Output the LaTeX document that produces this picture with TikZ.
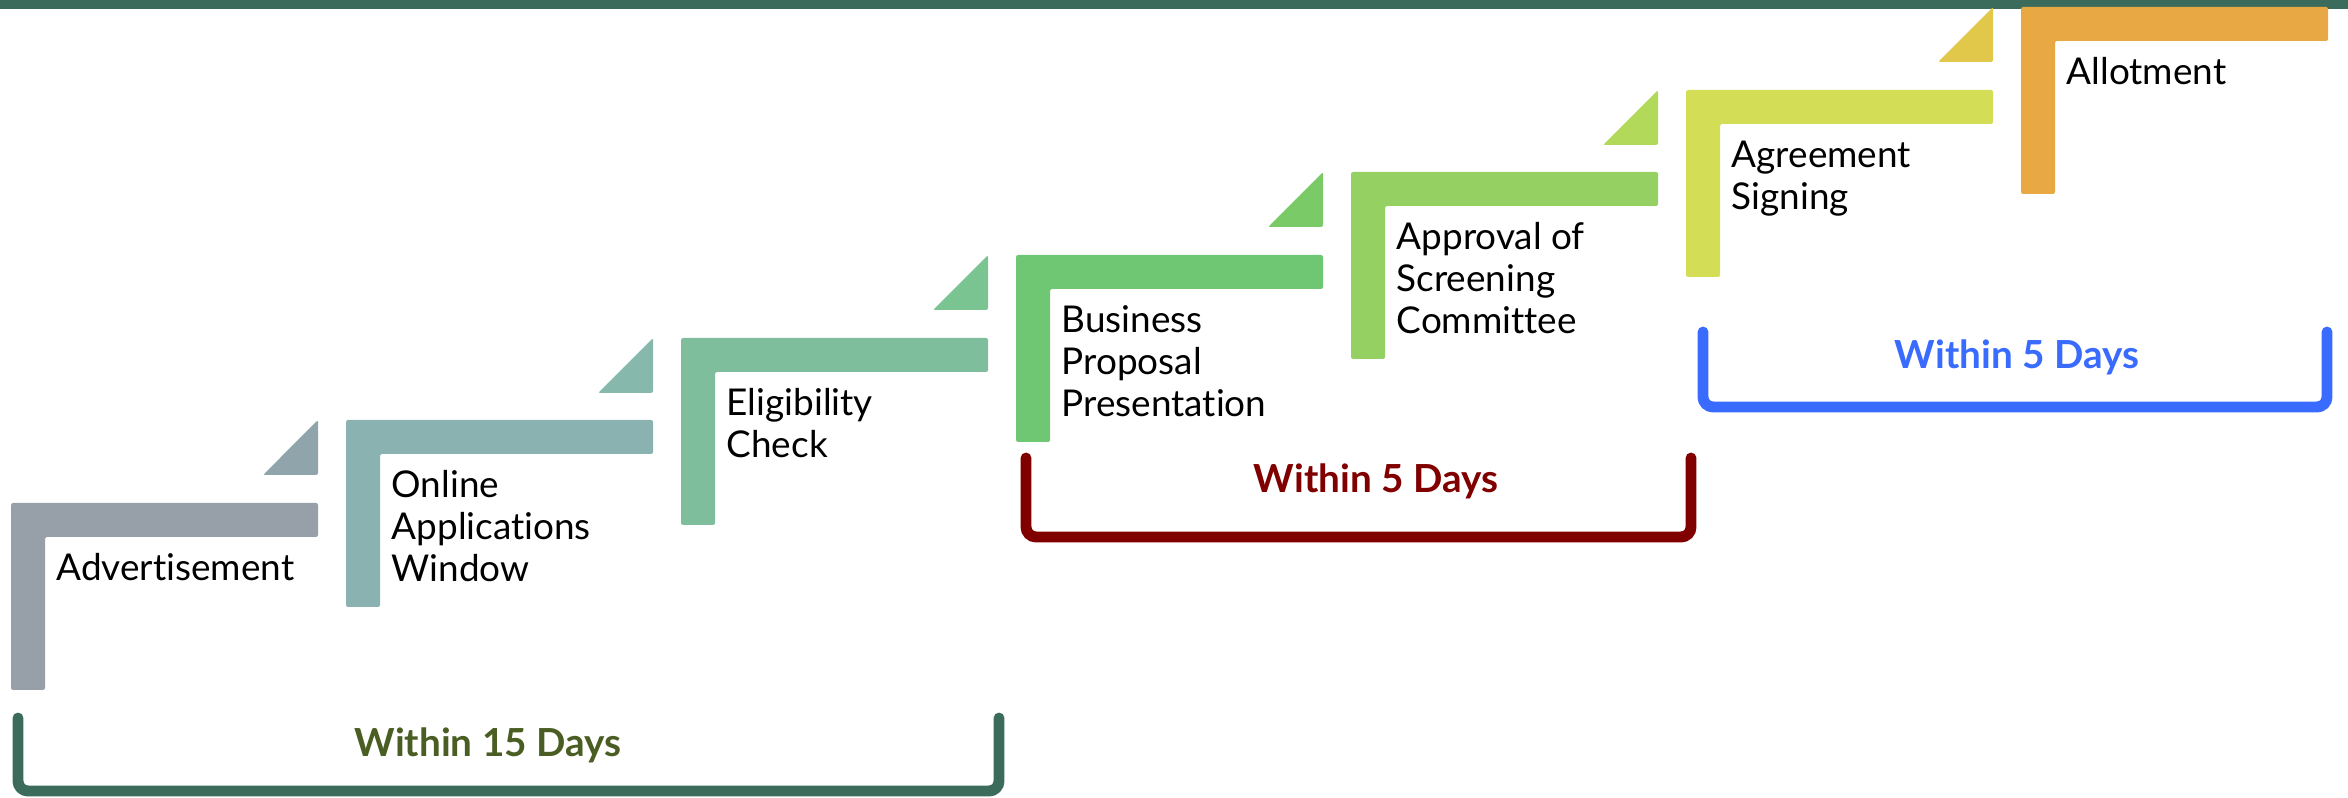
\documentclass[tikz,border=0pt]{standalone}
\usepackage{fontspec}
\setmainfont{Lato}[Ligatures={NoCommon}]
\definecolor{topgreen}{HTML}{3B6B5B}
\definecolor{stepA}{HTML}{979FA8}
\definecolor{stepB}{HTML}{8AB2B0}
\definecolor{stepC}{HTML}{7FBE9C}
\definecolor{stepD}{HTML}{6FC774}
\definecolor{stepE}{HTML}{95D162}
\definecolor{stepF}{HTML}{D3DD55}
\definecolor{stepG}{HTML}{E8A843}
\definecolor{triA}{HTML}{8FA4AB}
\definecolor{triB}{HTML}{86B8AC}
\definecolor{triC}{HTML}{79C490}
\definecolor{triD}{HTML}{7ACB68}
\definecolor{triE}{HTML}{B2D95A}
\definecolor{triF}{HTML}{E2C84A}
\definecolor{olivetext}{HTML}{4A5E23}
\definecolor{bracketred}{HTML}{800000}
\definecolor{bracketblue}{HTML}{3A6BFF}
\usepackage{tikz}

\begin{document}
\begin{tikzpicture}[every node/.style={inner sep=0pt},
    steptext/.style={anchor=north west, align=left, font=\fontsize{10.5}{11.95}\selectfont},
    daystext/.style={anchor=base, font=\fontsize{11}{13}\selectfont\bfseries},
    bracket/.style={line width=3.1pt, line cap=round, rounded corners=0.1cm}]
    \useasboundingbox (0,0) rectangle (23.48,7.97);

    % Top line
    \fill[topgreen] (0,7.88) rectangle (23.48,7.97);

    % Steps
    \fill[stepA, rounded corners=0.6pt] (0.11,1.07) -- (0.11,2.94) -- (3.18,2.94) -- (3.18,2.60) -- (0.45,2.60) -- (0.45,1.07) -- cycle;
    \fill[triA, rounded corners=0.6pt] (2.63,3.22) -- (3.18,3.77) -- (3.18,3.22) -- cycle;
    \node[steptext] (advert) at (0.56,2.44) {Advertisement};

    \fill[stepB, rounded corners=0.6pt] (3.46,1.90) -- (3.46,3.77) -- (6.53,3.77) -- (6.53,3.43) -- (3.80,3.43) -- (3.80,1.90) -- cycle;
    \fill[triB, rounded corners=0.6pt] (5.98,4.04) -- (6.53,4.59) -- (6.53,4.04) -- cycle;
    \node[steptext] (online) at (3.91,3.27) {Online\\Applications\\Window};

    \fill[stepC, rounded corners=0.6pt] (6.81,2.72) -- (6.81,4.59) -- (9.88,4.59) -- (9.88,4.25) -- (7.15,4.25) -- (7.15,2.72) -- cycle;
    \fill[triC, rounded corners=0.6pt] (9.33,4.87) -- (9.88,5.42) -- (9.88,4.87) -- cycle;
    \node[steptext] (check) at (7.26,4.09) {Eligibility\\Check};

    \fill[stepD, rounded corners=0.6pt] (10.16,3.55) -- (10.16,5.42) -- (13.23,5.42) -- (13.23,5.08) -- (10.50,5.08) -- (10.50,3.55) -- cycle;
    \fill[triD, rounded corners=0.6pt] (12.68,5.70) -- (13.23,6.25) -- (13.23,5.70) -- cycle;
    \node[steptext] (business) at (10.61,4.92) {Business\\Proposal\\Presentation};

    \fill[stepE, rounded corners=0.6pt] (13.51,4.38) -- (13.51,6.25) -- (16.58,6.25) -- (16.58,5.91) -- (13.85,5.91) -- (13.85,4.38) -- cycle;
    \fill[triE, rounded corners=0.6pt] (16.03,6.52) -- (16.58,7.07) -- (16.58,6.52) -- cycle;
    \node[steptext] (approval) at (13.96,5.75) {Approval of\\Screening\\Committee};

    \fill[stepF, rounded corners=0.6pt] (16.86,5.20) -- (16.86,7.07) -- (19.93,7.07) -- (19.93,6.73) -- (17.20,6.73) -- (17.20,5.20) -- cycle;
    \fill[triF, rounded corners=0.6pt] (19.38,7.35) -- (19.93,7.90) -- (19.93,7.35) -- cycle;
    \node[steptext] (signing) at (17.31,6.57) {Agreement\\Signing};

    \fill[stepG, rounded corners=0.6pt] (20.21,6.03) -- (20.21,7.90) -- (23.28,7.90) -- (23.28,7.56) -- (20.55,7.56) -- (20.55,6.03) -- cycle;
    \node[steptext] (allot) at (20.66,7.40) {Allotment};

    % Brackets
    \draw[bracket, topgreen] (0.18,0.79) -- (0.18,0.06) -- (9.99,0.06) -- (9.99,0.79);
    \node[daystext, olivetext] (days15) at (4.88,0.41) {Within 15 Days};

    \draw[bracket, bracketred] (10.26,3.39) -- (10.26,2.60) -- (16.91,2.60) -- (16.91,3.39);
    \node[daystext, bracketred] (days5a) at (13.76,3.04) {Within 5 Days};

    \draw[bracket, bracketblue] (17.03,4.65) -- (17.03,3.90) -- (23.27,3.90) -- (23.27,4.65);
    \node[daystext, bracketblue] (days5b) at (20.17,4.28) {Within 5 Days};
\end{tikzpicture}
\end{document}
